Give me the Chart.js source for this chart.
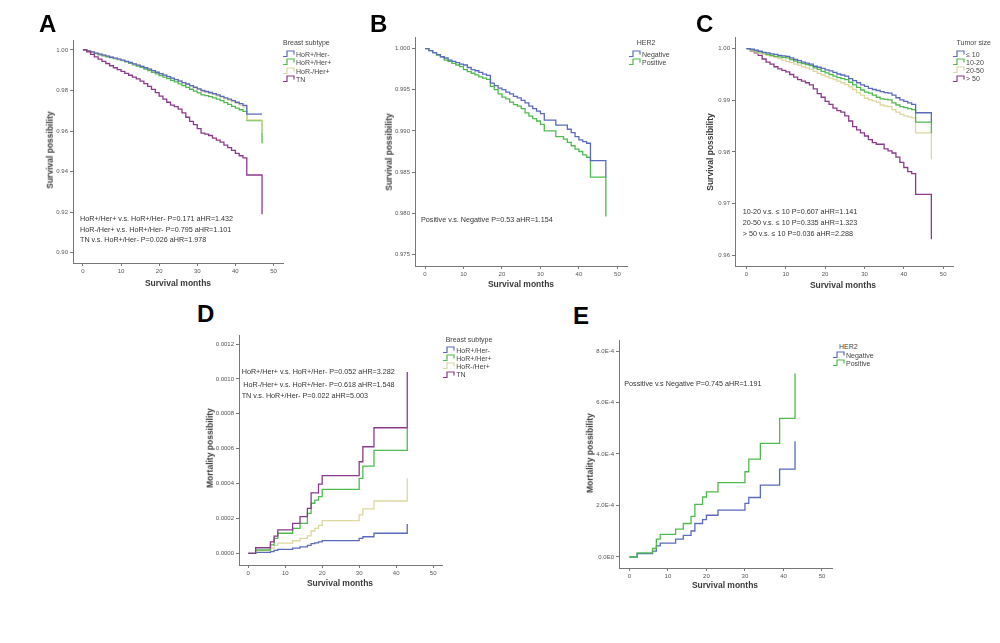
<!DOCTYPE html>
<html>
<head>
<meta charset="utf-8">
<script src="https://cdn.jsdelivr.net/npm/chart.js@4.4.1/dist/chart.umd.min.js"></script>
<style>
  body { margin: 0; background: #fff; width: 1000px; height: 643px; overflow: hidden; position: relative;
         font-family: "Liberation Sans", Arial, sans-serif; color: #333; }
  canvas { position: absolute; }
  .t { position: absolute; white-space: nowrap; line-height: 1; }
  svg { position: absolute; }
</style>
</head>
<body>
<script>
// ---- data ----
const monthsKM = [0,1,2,3,4,5,6,7,8,9,10,11,12,13,14,15,16,17,18,19,20,21,22,23,24,25,26,27,28,29,30,31,32,33,34,35,36,37,38,39,40,41,42,43,47];
const xTicks = [0, 10, 20, 30, 40, 50];

// A: breast subtype, survival
const subtypeNames = ['HoR+/Her-', 'HoR+/Her+', 'HoR-/Her+', 'TN'];
const survA_hrpos_her2neg = [1.000,0.9995,0.9990,0.9984,0.9979,0.9974,0.9969,0.9964,0.9960,0.9955,0.9950,0.9944,0.9938,0.9931,0.9925,0.9919,0.9912,0.9905,0.9898,0.9890,0.9883,0.9876,0.9868,0.9861,0.9854,0.9846,0.9839,0.9832,0.9824,0.9816,0.9808,0.9800,0.9795,0.9790,0.9784,0.9778,0.9771,0.9764,0.9757,0.9750,0.9742,0.9735,0.9727,0.9683,0.9683];
const survA_hrpos_her2pos = [1.000,0.9994,0.9988,0.9982,0.9976,0.9971,0.9966,0.9962,0.9957,0.9952,0.9947,0.9941,0.9934,0.9927,0.9920,0.9914,0.9906,0.9898,0.9890,0.9882,0.9874,0.9866,0.9858,0.9850,0.9842,0.9833,0.9824,0.9815,0.9806,0.9797,0.9788,0.9778,0.9775,0.9770,0.9764,0.9757,0.9750,0.9740,0.9731,0.9722,0.9713,0.9705,0.9697,0.9651,0.954];
const survA_hrneg_her2pos = [1.000,0.9996,0.9991,0.9985,0.9980,0.9975,0.9970,0.9965,0.9960,0.9954,0.9949,0.9943,0.9937,0.9931,0.9926,0.9920,0.9913,0.9906,0.9898,0.9891,0.9884,0.9877,0.9869,0.9862,0.9855,0.9847,0.9838,0.9830,0.9822,0.9814,0.9805,0.9797,0.9792,0.9786,0.9780,0.9774,0.9767,0.9760,0.9752,0.9745,0.9737,0.9728,0.9719,0.9655,0.959];
const survA_tn = [1.000,0.9990,0.9978,0.9966,0.9955,0.9944,0.9933,0.9922,0.9912,0.9903,0.9894,0.9884,0.9875,0.9866,0.9857,0.9846,0.9834,0.9820,0.9805,0.9789,0.9772,0.9757,0.9742,0.9728,0.9720,0.9708,0.9690,0.9668,0.9648,0.9632,0.9612,0.9590,0.9585,0.9578,0.9565,0.9555,0.9545,0.9530,0.9518,0.9505,0.9490,0.9478,0.9468,0.9383,0.919];
const yTicksA = [0.90, 0.92, 0.94, 0.96, 0.98, 1.00];
const yLabelsA = ['0.90', '0.92', '0.94', '0.96', '0.98', '1.00'];

// B: HER2, survival
const her2Names = ['Negative', 'Positive'];
const survB_neg = [1.0000,0.99975,0.9995,0.99925,0.9990,0.99885,0.9986,0.99845,0.9983,0.9981,0.9980,0.9977,0.99745,0.9973,0.9971,0.9969,0.99675,0.9958,0.9955,0.9952,0.9950,0.9947,0.9945,0.9942,0.9940,0.9937,0.9934,0.9930,0.9927,0.9924,0.9921,0.9913,0.9913,0.9913,0.9907,0.9907,0.9907,0.9902,0.9898,0.9893,0.9889,0.9887,0.9885,0.9864,0.9844];
const survB_pos = [1.0000,0.99975,0.9995,0.9992,0.9990,0.9986,0.99845,0.9982,0.9980,0.9978,0.99745,0.9972,0.9970,0.9968,0.99655,0.9964,0.99625,0.9954,0.9950,0.9945,0.9941,0.9939,0.9935,0.9932,0.9930,0.9927,0.9922,0.9918,0.9915,0.9912,0.9908,0.9900,0.9900,0.9900,0.9893,0.9893,0.9890,0.9886,0.9882,0.9878,0.9875,0.9871,0.9868,0.9844,0.9796];
const yTicksB = [0.975, 0.980, 0.985, 0.990, 0.995, 1.000];
const yLabelsB = ['0.975', '0.980', '0.985', '0.990', '0.995', '1.000'];

// C: tumor size, survival
const sizeNames = ['\u2264 10', '10-20', '20-50', '> 50'];
const survC_le10 = [1.0000,0.9999,0.9997,0.9995,0.9993,0.9992,0.9990,0.9989,0.9987,0.9986,0.9985,0.9982,0.9979,0.9977,0.9974,0.9972,0.9970,0.9966,0.9964,0.9962,0.9959,0.9957,0.9954,0.9951,0.9949,0.9947,0.9942,0.9938,0.9934,0.9930,0.9927,0.9923,0.9921,0.9919,0.9917,0.9915,0.9914,0.9910,0.9905,0.9901,0.9898,0.9895,0.9892,0.9876,0.9858];
const survC_10_20 = [1.0000,0.9998,0.9996,0.9994,0.9992,0.9989,0.9987,0.9985,0.9984,0.9983,0.9982,0.9979,0.9976,0.9973,0.9971,0.9969,0.9967,0.9963,0.9960,0.9956,0.9953,0.9950,0.9947,0.9944,0.9942,0.9940,0.9935,0.9930,0.9925,0.9920,0.9916,0.9914,0.9910,0.9906,0.9903,0.9902,0.9901,0.9895,0.9891,0.9888,0.9886,0.9884,0.9882,0.9858,0.9837];
const survC_20_50 = [1.0000,0.9997,0.9994,0.9991,0.9989,0.9987,0.9985,0.9983,0.9981,0.9978,0.9975,0.9973,0.9970,0.9968,0.9965,0.9963,0.9960,0.9956,0.9952,0.9949,0.9946,0.9943,0.9940,0.9937,0.9934,0.9931,0.9926,0.9921,0.9915,0.9910,0.9904,0.9901,0.9899,0.9896,0.9891,0.9889,0.9888,0.9882,0.9877,0.9873,0.9870,0.9868,0.9866,0.9837,0.9786];
const survC_gt50 = [1.0000,0.9996,0.9992,0.9987,0.9980,0.9974,0.9970,0.9965,0.9961,0.9958,0.9955,0.9950,0.9945,0.9940,0.9937,0.9934,0.9930,0.9922,0.9913,0.9906,0.9898,0.9892,0.9885,0.9880,0.9877,0.9870,0.9860,0.9849,0.9843,0.9837,0.9831,0.9824,0.9818,0.9815,0.9815,0.9806,0.9802,0.9798,0.9790,0.9780,0.9770,0.9762,0.9758,0.9718,0.9631];
const yTicksC = [0.96, 0.97, 0.98, 0.99, 1.00];
const yLabelsC = ['0.96', '0.97', '0.98', '0.99', '1.00'];

// D: breast subtype, mortality
const monthsD = [0,2,6,7,8,12,14,16,17,18,19,20,30,31,34,43];
const mortD_hrpos_her2neg = [0,0.000005,0.00001,0.000017,0.000023,0.00003,0.000037,0.000045,0.000055,0.00006,0.000066,0.0000725,0.000086,0.000095,0.000115,0.000168];
const mortD_hrpos_her2pos = [0,0.000019,0.000048,0.000086,0.000115,0.000143,0.000172,0.000229,0.000287,0.000305,0.000325,0.000367,0.00043,0.0005,0.00059,0.000717];
const mortD_hrneg_her2pos = [0,0.000015,0.00003,0.000045,0.000058,0.000072,0.000086,0.0001,0.000128,0.000143,0.00016,0.000187,0.00022,0.000255,0.0003,0.00043];
const mortD_tn = [0,0.000032,0.000066,0.000099,0.000134,0.000172,0.00021,0.000258,0.000347,0.000347,0.000397,0.000445,0.000525,0.000611,0.00072,0.00104];
const yTicksD = [0, 0.0002, 0.0004, 0.0006, 0.0008, 0.0010, 0.0012];
const yLabelsD = ['0.0000', '0.0002', '0.0004', '0.0006', '0.0008', '0.0010', '0.0012'];

// E: HER2, mortality
const monthsE = [0,2,6,7,8,12,14,16,17,19,20,23,30,31,34,39,43];
const mortE_neg = [0,0.000013,0.000023,0.000043,0.000054,0.000069,0.000084,0.000101,0.00013,0.000145,0.000162,0.000182,0.000208,0.000231,0.000279,0.000341,0.00045];
const mortE_pos = [0,0.0000156,0.000033,0.000069,0.000088,0.000108,0.00013,0.000158,0.000204,0.000233,0.000253,0.000289,0.000331,0.00038,0.000441,0.000538,0.000713];
const yTicksE = [0, 0.0002, 0.0004, 0.0006, 0.0008];
const yLabelsE = ['0.0E0', '2.0E-4', '4.0E-4', '6.0E-4', '8.0E-4'];

const BLUE = '#5a6bbd', GREEN = '#4fba4f', BEIGE = '#dcd8a0', PURPLE = '#8a3a8a';

// ---- helpers ----
function txt(s, x, base, size, opt) {
    opt = opt || {};
    let d = document.createElement('div');
    d.className = 't';
    d.textContent = s;
    d.style.fontSize = size + 'px';
    d.style.left = x + 'px';
    d.style.top = (base - 0.846 * size) + 'px';
    if (opt.bold) d.style.fontWeight = 'bold';
    if (opt.color) d.style.color = opt.color;
    if (opt.center) d.style.transform = 'translateX(-50%)';
    document.body.appendChild(d);
}

function vtxt(s, cx, cy, size) {
    let d = document.createElement('div');
    d.className = 't';
    d.textContent = s;
    d.style.fontSize = size + 'px';
    d.style.fontWeight = 'bold';
    d.style.color = '#3a3a3a';
    d.style.left = cx + 'px';
    d.style.top = cy + 'px';
    d.style.transform = 'translate(-50%,-50%) rotate(-90deg)';
    document.body.appendChild(d);
}

function legend(title, titleX, titleBase, titleCenter, x, ys, names, colors) {
    txt(title, titleX, titleBase, 7, { center: titleCenter, color: '#444' });
    names.forEach((n, i) => {
        let svg = document.createElementNS('http://www.w3.org/2000/svg', 'svg');
        svg.setAttribute('width', 13);
        svg.setAttribute('height', 8);
        svg.style.left = x + 'px';
        svg.style.top = (ys[i] - 4) + 'px';
        svg.innerHTML = '<polyline points="0,6.5 4,6.5 4,1 11,1 11,4.5" fill="none" stroke="' + colors[i] + '" stroke-width="1.2"/>';
        document.body.appendChild(svg);
        txt(n, x + 13, ys[i] + 2.6, 7, { color: '#444' });
    });
}

function panel(p) {
    const yW = 40, xH = 16, padT = 6, padR = 6;
    let cv = document.createElement('canvas');
    let w = Math.round(yW + (p.box.r - p.box.l) + padR);
    let h = Math.round(padT + (p.box.b - p.box.t) + xH);
    cv.width = w;
    cv.height = h;
    cv.style.width = w + 'px';
    cv.style.height = h + 'px';
    cv.style.left = (p.box.l - yW) + 'px';
    cv.style.top = (p.box.t - padT) + 'px';
    document.body.appendChild(cv);

    let tickFont = { size: 6, family: '"Liberation Sans", Arial, sans-serif' };
    new Chart(cv, {
        type: 'line',
        data: {
            datasets: p.series.map(s => ({
                label: s.name,
                data: p.months.map((m, i) => ({ x: m, y: s.values[i] })),
                borderColor: s.color,
                borderWidth: 1.3,
                pointRadius: 0,
                stepped: true,
                fill: false
            }))
        },
        options: {
            responsive: false,
            animation: false,
            layout: { padding: { top: padT, right: padR, left: 0, bottom: 0 } },
            plugins: { legend: { display: false }, tooltip: { enabled: false } },
            scales: {
                x: {
                    type: 'linear', min: p.xmin, max: p.xmax,
                    afterBuildTicks: s => { s.ticks = xTicks.map(v => ({ value: v })); },
                    afterFit: s => { s.height = xH; },
                    grid: { drawOnChartArea: false, tickLength: 3, color: '#777' },
                    border: { color: '#777', width: 1 },
                    ticks: { font: tickFont, color: '#555', padding: 2, maxRotation: 0, autoSkip: false }
                },
                y: {
                    type: 'linear', min: p.ymin, max: p.ymax,
                    afterBuildTicks: s => { s.ticks = p.yTicks.map(v => ({ value: v })); },
                    afterFit: s => { s.width = yW; },
                    grid: { drawOnChartArea: false, tickLength: 3, color: '#777' },
                    border: { color: '#777', width: 1 },
                    ticks: { font: tickFont, color: '#555', padding: 2, autoSkip: false,
                             callback: (v, i) => p.yLabels[i] }
                }
            }
        }
    });
}

// ---- panels ----
panel({
    box: { l: 72.7, r: 283, t: 40, b: 263 }, xmin: -2.6, xmax: 52.5, ymin: 0.8949, ymax: 1.0049,
    yTicks: yTicksA, yLabels: yLabelsA, months: monthsKM,
    series: [
        { name: subtypeNames[3], values: survA_tn, color: PURPLE },
        { name: subtypeNames[0], values: survA_hrpos_her2neg, color: BLUE },
        { name: subtypeNames[2], values: survA_hrneg_her2pos, color: BEIGE },
        { name: subtypeNames[1], values: survA_hrpos_her2pos, color: GREEN }
    ]
});
panel({
    box: { l: 415, r: 627, t: 36.7, b: 265.7 }, xmin: -2.6, xmax: 52.5, ymin: 0.9736, ymax: 1.0014,
    yTicks: yTicksB, yLabels: yLabelsB, months: monthsKM,
    series: [
        { name: her2Names[0], values: survB_neg, color: BLUE },
        { name: her2Names[1], values: survB_pos, color: GREEN }
    ]
});
panel({
    box: { l: 735, r: 952.7, t: 37.3, b: 266.7 }, xmin: -2.9, xmax: 52.5, ymin: 0.95793, ymax: 1.00226,
    yTicks: yTicksC, yLabels: yLabelsC, months: monthsKM,
    series: [
        { name: sizeNames[0], values: survC_le10, color: BLUE },
        { name: sizeNames[1], values: survC_10_20, color: GREEN },
        { name: sizeNames[2], values: survC_20_50, color: BEIGE },
        { name: sizeNames[3], values: survC_gt50, color: PURPLE }
    ]
});
panel({
    box: { l: 239, r: 441.7, t: 335, b: 565 }, xmin: -2.5, xmax: 52.4, ymin: -0.000067, ymax: 0.0012516,
    yTicks: yTicksD, yLabels: yLabelsD, months: monthsD,
    series: [
        { name: subtypeNames[3], values: mortD_tn, color: PURPLE },
        { name: subtypeNames[1], values: mortD_hrpos_her2pos, color: GREEN },
        { name: subtypeNames[2], values: mortD_hrneg_her2pos, color: BEIGE },
        { name: subtypeNames[0], values: mortD_hrpos_her2neg, color: BLUE }
    ]
});
panel({
    box: { l: 619, r: 831.7, t: 340, b: 567.7 }, xmin: -2.7, xmax: 52.6, ymin: -0.0000428, ymax: 0.0008428,
    yTicks: yTicksE, yLabels: yLabelsE, months: monthsE,
    series: [
        { name: her2Names[1], values: mortE_pos, color: GREEN },
        { name: her2Names[0], values: mortE_neg, color: BLUE }
    ]
});

// ---- panel letters ----
txt('A', 39, 32, 24, { bold: true, color: '#000' });
txt('B', 370, 32, 24, { bold: true, color: '#000' });
txt('C', 696, 32, 24, { bold: true, color: '#000' });
txt('D', 197, 322, 24, { bold: true, color: '#000' });
txt('E', 573, 324, 24, { bold: true, color: '#000' });

// ---- axis titles ----
vtxt('Survival possibility', 49.5, 150, 8.5);
vtxt('Survival possibility', 388.5, 152, 8.5);
vtxt('Survival possibility', 710, 152, 8.5);
vtxt('Mortality possibility', 210, 448, 8.5);
vtxt('Mortality possibility', 590, 453, 8.5);
txt('Survival months', 178, 286, 8.5, { bold: true, center: true, color: '#3a3a3a' });
txt('Survival months', 521, 287, 8.5, { bold: true, center: true, color: '#3a3a3a' });
txt('Survival months', 843, 288, 8.5, { bold: true, center: true, color: '#3a3a3a' });
txt('Survival months', 340, 586, 8.5, { bold: true, center: true, color: '#3a3a3a' });
txt('Survival months', 725, 588, 8.5, { bold: true, center: true, color: '#3a3a3a' });

// ---- legends ----
const colors4 = [BLUE, GREEN, BEIGE, PURPLE];
legend('Breast subtype', 283, 45, false, 283, [54, 62.3, 71, 79.3], subtypeNames, colors4);
legend('HER2', 646, 45, true, 629, [54, 62.3], her2Names, [BLUE, GREEN]);
legend('Tumor size', 956.5, 45, false, 953, [54, 62.3, 70.3, 78.7], sizeNames, colors4);
legend('Breast subtype', 445.7, 342, false, 443.3, [350, 358.3, 366.3, 374.7], subtypeNames, colors4);
legend('HER2', 848.3, 348.5, true, 833, [355.3, 363.3], her2Names, [BLUE, GREEN]);

// ---- annotations ----
txt('HoR+/Her+ v.s. HoR+/Her- P=0.171 aHR=1.432', 80, 220.8, 7.2);
txt('HoR-/Her+ v.s. HoR+/Her- P=0.795 aHR=1.101', 80, 231.8, 7.2);
txt('TN v.s. HoR+/Her- P=0.026 aHR=1.978', 80, 242.5, 7.2);
txt('Positive v.s. Negative P=0.53 aHR=1.154', 421, 222.5, 7.2);
txt('10-20 v.s. \u2264 10 P=0.607 aHR=1.141', 742.7, 214.5, 7.2);
txt('20-50 v.s. \u2264 10 P=0.335 aHR=1.323', 742.7, 225.2, 7.2);
txt('> 50 v.s. \u2264 10 P=0.036 aHR=2.288', 742.7, 235.8, 7.2);
txt('HoR+/Her+ v.s. HoR+/Her- P=0.052 aHR=3.282', 241.7, 374.2, 7.2);
txt('HoR-/Her+ v.s. HoR+/Her- P=0.618 aHR=1.548', 243.3, 386.8, 7.2);
txt('TN v.s. HoR+/Her- P=0.022 aHR=5.003', 241.7, 398.5, 7.2);
txt('Possitive v.s  Negative P=0.745 aHR=1.191', 624.3, 385.8, 7.2);
</script>
</body>
</html>
